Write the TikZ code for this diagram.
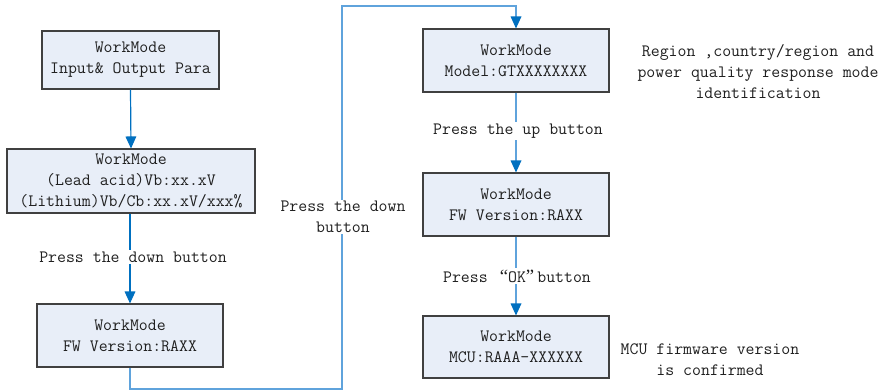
\documentclass[tikz,border=0pt]{standalone}
\usepackage{fontspec}
\newfontfamily\quotefont{Liberation Serif}
\usetikzlibrary{arrows.meta}
\definecolor{boxfill}{HTML}{E8EEF8}
\definecolor{boxline}{HTML}{404040}
\definecolor{darkblue}{HTML}{0070C0}
\definecolor{lightblue}{HTML}{5FA3DC}
\definecolor{txtgray}{HTML}{202020}
\begin{document}
\begin{tikzpicture}[x=0.75pt,y=-0.75pt,
  every node/.style={font=\ttfamily\fontsize{13}{15.75}\selectfont, text=txtgray},
  modebox/.style={draw=boxline, line width=0.8pt, fill=boxfill, align=center, inner sep=0pt},
  lbl/.style={fill=white, align=center, inner sep=1pt},
  note/.style={align=center, inner sep=0pt},
  arr/.style={line width=0.9pt, -{Triangle[width=8pt,length=9pt,color=darkblue]}},
  darkline/.style={arr, draw=darkblue},
  lightline/.style={arr, draw=lightblue}]
\useasboundingbox (0,0) rectangle (891,391);
\fill[white] (0,0) rectangle (891,391);

\node[modebox, minimum width=177*0.75pt, minimum height=58*0.75pt] (b1) at (130.5,60) {WorkMode\\Input\& Output Para};
\node[modebox, minimum width=248*0.75pt, minimum height=64*0.75pt] (b2) at (131,181) {WorkMode\\(Lead acid)Vb:xx.xV\\(Lithium)Vb/Cb:xx.xV/xxx\%};
\node[modebox, minimum width=186*0.75pt, minimum height=63*0.75pt] (b3) at (130,335.5) {WorkMode\\FW Version:RAXX};
\node[modebox, minimum width=186*0.75pt, minimum height=63*0.75pt] (b4) at (516,60.5) {WorkMode\\Model:GTXXXXXXXX};
\node[modebox, minimum width=186*0.75pt, minimum height=63*0.75pt] (b5) at (516,204.5) {WorkMode\\FW Version:RAXX};
\node[modebox, minimum width=186*0.75pt, minimum height=62*0.75pt] (b6) at (516,347) {WorkMode\\MCU:RAAA-XXXXXX};

\coordinate (c1) at (130,389);
\coordinate (c2) at (342,389);
\coordinate (c3) at (342,6);
\coordinate (c4) at (516,6);

\draw[darkline] (b1.south) -- (b2.north);
\draw[darkline] (b2.south -| b3.north) -- (b3.north);
\draw[lightline] (b3.south) -- (c1) -- (c2) -- (c3) -- (c4) -- (b4.north);
\draw[lightline] (b4.south) -- (b5.north);
\draw[lightline] (b5.south) -- (b6.north);

\node[lbl] (l1) at (133,257) {Press the down button};
\node[lbl] (l2) at (343,217) {Press the down\\button};
\node[lbl] (l3) at (518,131) {Press the up button};
\node[lbl] (l4) at (517,276) {Press {\quotefont\fontsize{14}{15.75}\selectfont\,“}OK{\quotefont\fontsize{14}{15.75}\selectfont ”\,}button};

\node[note] (n1) at (758,72) {Region ,country/region and\\power quality response mode\\identification};
\node[note] (n2) at (710,360) {MCU firmware version\\is confirmed};
\end{tikzpicture}
\end{document}
